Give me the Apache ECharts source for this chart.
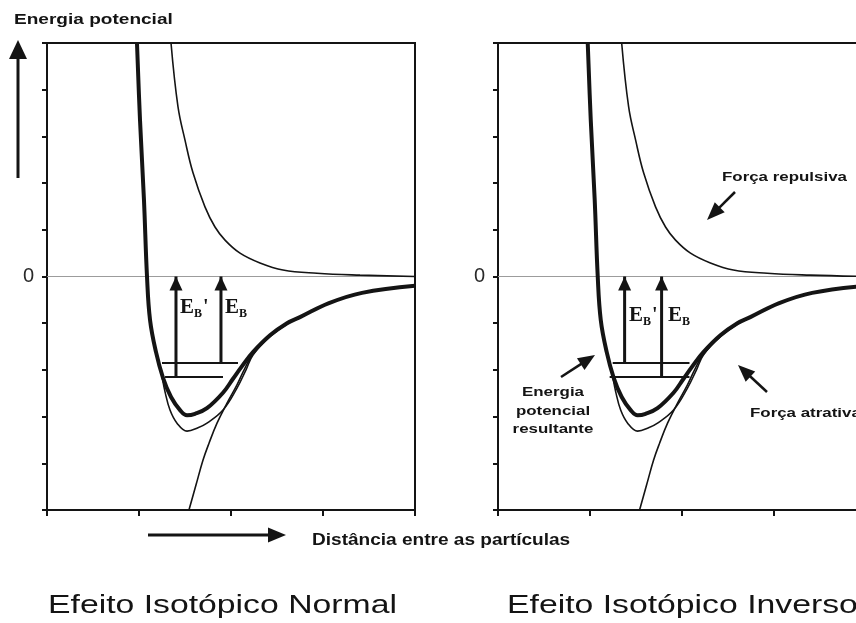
<!DOCTYPE html>
<html>
<head>
<meta charset="utf-8">
<script src="https://cdn.jsdelivr.net/npm/echarts@6/dist/echarts.min.js"></script>
<style>
  html, body { margin: 0; padding: 0; background: #fff; }
  #chart { width: 856px; height: 623px; }
</style>
</head>
<body>
<div id="chart"></div>
<script>
// Axis domains: distance between particles (arbitrary units) and potential energy
const distanceTicks = [0, 1, 2, 3, 4];
const energyTicks = [-5, -4, -3, -2, -1, 0, 1, 2, 3, 4, 5];
const energyLabels = ['0'];

// Curves, as [distance, energy] pairs (the same in both panels)
const repulsiveForce = [
  [1.348, 5.00], [1.424, 3.63], [1.500, 2.92], [1.587, 2.22], [1.717, 1.49],
  [1.826, 1.06], [1.935, 0.78], [2.098, 0.50], [2.315, 0.29], [2.565, 0.14],
  [2.935, 0.07], [3.402, 0.03], [4.000, 0.00]
];
const attractiveForce = [
  [1.543, -5.00], [1.620, -4.46], [1.696, -3.93], [1.761, -3.57], [1.848, -3.14],
  [1.957, -2.71], [2.065, -2.32], [2.152, -1.96], [2.239, -1.66], [2.424, -1.27],
  [2.609, -1.02], [2.750, -0.87], [3.065, -0.57], [3.424, -0.35], [4.000, -0.20]
];
const resultantPotential = [
  [0.978, 5.00], [1.011, 3.35], [1.054, 1.64], [1.087, 0.00], [1.120, -0.93],
  [1.185, -1.62], [1.261, -2.17], [1.348, -2.58], [1.446, -2.86], [1.522, -2.97],
  [1.609, -2.94], [1.739, -2.82], [1.913, -2.49], [2.022, -2.19], [2.120, -1.92],
  [2.239, -1.62], [2.424, -1.26], [2.609, -1.00], [2.750, -0.87], [3.065, -0.57],
  [3.424, -0.35], [4.000, -0.20]
];
const deeperWell = [
  [1.120, -0.93], [1.185, -1.62], [1.239, -2.04], [1.283, -2.47], [1.337, -2.86],
  [1.413, -3.14], [1.522, -3.31], [1.641, -3.24], [1.739, -3.14], [1.913, -2.86],
  [2.065, -2.39], [2.163, -2.00], [2.239, -1.68], [2.424, -1.29], [2.609, -1.02]
];

// Vibrational levels: [energy, distance from, distance to]
const normalLevels = [[-1.85, 1.250, 2.076], [-2.15, 1.283, 1.913]];
const inverseLevels = [[-1.85, 1.250, 2.087], [-2.15, 1.217, 2.087]];

// Dissociation arrows E_B' and E_B: [distance, start energy, end energy]
const normalArrows = [[1.402, -2.15, 0], [1.891, -1.85, 0]];
const inverseArrows = [[1.380, -1.85, 0], [1.783, -2.15, 0]];

const INK = '#141414';
const SANS = '"Liberation Sans", Arial, sans-serif';
const SERIF = '"Liberation Serif", "Times New Roman", serif';

function curve(data, gi, width, z) {
  return {
    type: 'line', xAxisIndex: gi, yAxisIndex: gi, data: data,
    smooth: 0.4, symbol: 'none', clip: true, z: z,
    lineStyle: { color: INK, width: width }
  };
}

function panelSeries(gi, levels, arrows) {
  const list = [];
  const rep = curve(repulsiveForce, gi, 1.6, 3);
  rep.markLine = {
    silent: true, symbol: ['none', 'none'], label: { show: false },
    lineStyle: { color: '#9c9c9c', width: 1, type: 'solid' },
    data: [{ yAxis: 0 }], z: 1
  };
  list.push(rep);
  list.push(curve(attractiveForce, gi, 1.6, 3));
  list.push(curve(deeperWell, gi, 1.6, 3));
  list.push(curve(resultantPotential, gi, 4, 4));
  levels.forEach(function (l) {
    list.push({
      type: 'line', xAxisIndex: gi, yAxisIndex: gi, symbol: 'none', z: 5,
      data: [[l[1], l[0]], [l[2], l[0]]],
      lineStyle: { color: INK, width: 2 }
    });
  });
  arrows.forEach(function (a) {
    list.push({
      type: 'line', xAxisIndex: gi, yAxisIndex: gi, z: 6,
      symbol: 'triangle', symbolSize: [13, 14], symbolOffset: [0, '50%'],
      showSymbol: true, showAllSymbol: true,
      itemStyle: { color: INK, borderWidth: 0 },
      lineStyle: { color: INK, width: 3 },
      data: [{ value: [a[0], a[1]], symbol: 'none' }, { value: [a[0], a[2]] }]
    });
  });
  return list;
}

function text(str, x, y, size, weight, align, sx) {
  return {
    type: 'text', x: x, y: y, scaleX: sx || 1, z: 50,
    style: {
      text: str, fill: INK, textAlign: align || 'left', textVerticalAlign: 'middle',
      font: (weight || 'normal') + ' ' + size + 'px ' + SANS
    }
  };
}

function arrow(x1, y1, x2, y2, headLen, headW, lineW) {
  const dx = x2 - x1, dy = y2 - y1, L = Math.hypot(dx, dy);
  const ux = dx / L, uy = dy / L;
  const bx = x2 - ux * headLen, by = y2 - uy * headLen;
  const px = -uy * headW / 2, py = ux * headW / 2;
  return [
    { type: 'line', z: 50, shape: { x1: x1, y1: y1, x2: bx + ux * 2, y2: by + uy * 2 },
      style: { stroke: INK, lineWidth: lineW } },
    { type: 'polygon', z: 50, shape: { points: [[x2, y2], [bx + px, by + py], [bx - px, by - py]] },
      style: { fill: INK } }
  ];
}

function ebLabel(x, y, prime) {
  const out = [
    { type: 'text', x: x, y: y, z: 50, style: { text: 'E', fill: INK, textVerticalAlign: 'bottom', font: 'bold 21px ' + SERIF } },
    { type: 'text', x: x + 14, y: y + 2, z: 50, style: { text: 'B', fill: INK, textVerticalAlign: 'bottom', font: 'bold 12px ' + SERIF } }
  ];
  if (prime) {
    out.push({ type: 'text', x: x + 23, y: y, z: 50, style: { text: "'", fill: INK, textVerticalAlign: 'bottom', font: 'bold 20px ' + SERIF } });
  }
  return out;
}

function axisPair(gi) {
  return {
    x: {
      gridIndex: gi, type: 'value',
      min: distanceTicks[0], max: distanceTicks[distanceTicks.length - 1], interval: 1,
      axisLine: { show: true, onZero: false, lineStyle: { color: INK, width: 2 } },
      axisTick: { show: true, inside: false, length: 6, lineStyle: { color: INK, width: 2 } },
      axisLabel: { show: false }, splitLine: { show: false }
    },
    y: {
      gridIndex: gi, type: 'value',
      min: energyTicks[0], max: energyTicks[energyTicks.length - 1], interval: 1,
      axisLine: { show: true, onZero: false, lineStyle: { color: INK, width: 2 } },
      axisTick: { show: true, inside: false, length: 5, lineStyle: { color: INK, width: 2 } },
      axisLabel: {
        show: true, margin: 13, fontSize: 20, color: '#2a2a2a', fontFamily: SANS,
        formatter: function (v) { return energyLabels.indexOf(String(v)) >= 0 ? String(v) : ''; }
      },
      splitLine: { show: false }
    }
  };
}

const ax0 = axisPair(0), ax1 = axisPair(1);
const gridStyle = {
  show: true, borderColor: INK, borderWidth: 2, backgroundColor: 'transparent',
  containLabel: false, outerBoundsMode: 'none'
};

let graphics = [];
graphics.push(text('Energia potencial', 14, 20, 15, 'bold', 'left', 1.27));
graphics = graphics.concat(arrow(18, 178, 18, 40, 19, 18, 3));
graphics = graphics.concat(arrow(148, 535, 286, 535, 18, 15, 3));
graphics.push(text('Distância entre as partículas', 312, 541, 16, 'bold', 'left', 1.19));
graphics.push(text('Efeito Isotópico Normal', 48, 606, 25, 'normal', 'left', 1.35));
graphics.push(text('Efeito Isotópico Inverso', 507, 606, 25, 'normal', 'left', 1.35));
graphics.push(text('Força repulsiva', 722, 177, 13, 'bold', 'left', 1.3));
graphics = graphics.concat(arrow(735, 192, 707, 220, 18, 14, 2.5));
graphics.push(text('Força atrativa', 750, 413, 13, 'bold', 'left', 1.3));
graphics = graphics.concat(arrow(767, 392, 738, 365, 17, 14, 2.5));
graphics.push(text('Energia', 553, 392, 13, 'bold', 'center', 1.3));
graphics.push(text('potencial', 553, 411, 13, 'bold', 'center', 1.3));
graphics.push(text('resultante', 553, 429, 13, 'bold', 'center', 1.3));
graphics = graphics.concat(arrow(561, 377, 595, 355, 17, 14, 2.5));
graphics = graphics.concat(ebLabel(180, 318, true));
graphics = graphics.concat(ebLabel(225, 318, false));
graphics = graphics.concat(ebLabel(629, 326, true));
graphics = graphics.concat(ebLabel(668, 326, false));

const option = {
  animation: false,
  backgroundColor: '#ffffff',
  grid: [
    Object.assign({ left: 47, top: 43, width: 368, height: 467 }, gridStyle),
    Object.assign({ left: 498, top: 43, width: 367, height: 467 }, gridStyle)
  ],
  xAxis: [ax0.x, ax1.x],
  yAxis: [ax0.y, ax1.y],
  series: panelSeries(0, normalLevels, normalArrows).concat(panelSeries(1, inverseLevels, inverseArrows)),
  graphic: graphics
};

const chart = echarts.init(document.getElementById('chart'), null, { renderer: 'canvas' });
chart.setOption(option);
</script>
</body>
</html>
